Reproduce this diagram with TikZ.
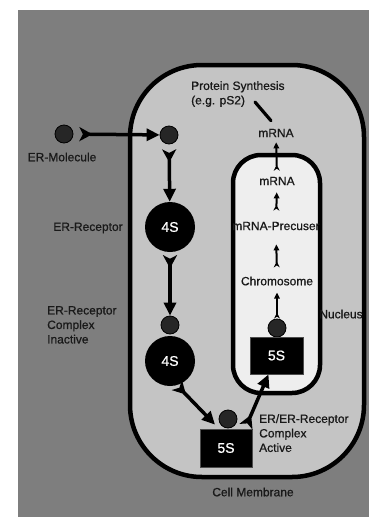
\documentclass[tikz,border=0pt]{standalone}
\usepackage{fontspec}
\setmainfont{Liberation Sans}
\newfontfamily\lblfont[FakeBold=0.8]{Liberation Sans}
\usetikzlibrary{arrows.meta}
\definecolor{bggray}{HTML}{7E7E7E}
\definecolor{cellgray}{HTML}{C4C4C4}
\definecolor{nucgray}{HTML}{EEEEEE}
\definecolor{dotgray}{HTML}{262626}
\begin{document}
\begin{tikzpicture}[x=1pt,y=-1pt,
  lbl/.style={font=\lblfont\fontsize{12}{14.5}\selectfont, inner sep=0pt, text=black!90},
  bigball/.style={circle, fill=black, minimum size=50pt, inner sep=0pt, text=white, font=\lblfont\fontsize{14}{16}\selectfont},
  dot/.style={circle, fill=dotgray, draw=black, line width=0.8pt, minimum size=18pt, inner sep=0pt},
  sbox/.style={rectangle, fill=black, draw=black!70, line width=0.8pt, inner sep=0pt, text=white, font=\lblfont\fontsize{14}{16}\selectfont},
  mainarrow/.style={line width=3.5pt, {Stealth[reversed,length=13pt,width=14pt,inset=3.5pt]}-{Triangle[length=13pt,width=12pt]}},
  smallarrow/.style={line width=2pt, {Stealth[reversed,length=6pt,width=6pt,inset=2pt]}-{Triangle[length=6pt,width=5.5pt]}},
  psline/.style={line width=3.2pt, line cap=round},
  membrane/.style={draw=black, line width=4.5pt}
]
\useasboundingbox (0,0) rectangle (369,517);
\fill[white] (0,0) rectangle (369,517);
\fill[bggray] (18,10) rectangle (369,517);
% cell
\path[membrane, fill=cellgray, rounded corners=72pt] (130,65) rectangle (364,477);
% nucleus
\path[membrane, fill=nucgray, rounded corners=28pt] (233,155) rectangle (320,393);

% molecules
\node[dot] (erm) at (64,134) {};
\node[dot] (d1) at (169,135) {};
\node[bigball] (r1) at (170,227) {4S};
\node[dot] (d2) at (170,325) {};
\node[bigball] (r2) at (170,361) {4S};
\node[dot] (d3) at (228,419) {};
\node[sbox, minimum width=52pt, minimum height=38pt] (b1) at (226,448) {5S};
\node[dot] (d4) at (277,328) {};
\node[sbox, minimum width=53pt, minimum height=37pt] (b2) at (276.5,355.5) {5S};

% labels
\node[lbl] (ermlbl) at (62,157) {ER-Molecule};
\node[lbl] (rlbl) at (88,228) {ER-Receptor};
\node[lbl, align=left, anchor=north west] (inact) at (47,306) {ER-Receptor\\Complex\\Inactive};
\node[lbl, align=left, anchor=north west] (act) at (259,414) {ER/ER-Receptor\\Complex\\Active};
\node[lbl] (cm) at (253,492) {Cell Membrane};
\node[lbl] (nuc) at (341,314) {Nucleus};
\node[lbl, align=left, anchor=north west] (ps) at (191,81) {Protein Synthesis\\(e.g. pS2)};
\node[lbl] (m1) at (276,133) {mRNA};
\node[lbl] (m2) at (277,181) {mRNA};
\node[lbl] (pre) at (276,226) {mRNA-Precuser};
\node[lbl] (chr) at (277,281) {Chromosome};
\coordinate (psend) at (255,102);

% main arrows
\draw[mainarrow, shorten <=6pt] (erm) -- (d1);
\draw[mainarrow, shorten <=5pt] (d1) -- (r1);
\draw[mainarrow, shorten <=3pt] (r1) -- (d2);
\draw[mainarrow] (r2.-74) -- ([xshift=-11pt,yshift=4pt]b1.north);
\draw[mainarrow] ([xshift=20pt,yshift=2pt]b1.north) -- ([xshift=-8pt]b2.south);

% nucleus arrows
\draw[smallarrow, shorten >=7pt] (d4) -- (chr);
\draw[smallarrow, shorten <=9pt, shorten >=14pt] (chr) -- (pre);
\draw[smallarrow, shorten <=11pt, shorten >=7pt] (pre) -- (m2);
\draw[smallarrow, shorten <=6pt, shorten >=5pt] (m2) -- (m1);

% protein synthesis
\draw[psline] ([xshift=-5pt,yshift=8pt]m1.north) -- (psend);
\end{tikzpicture}
\end{document}
